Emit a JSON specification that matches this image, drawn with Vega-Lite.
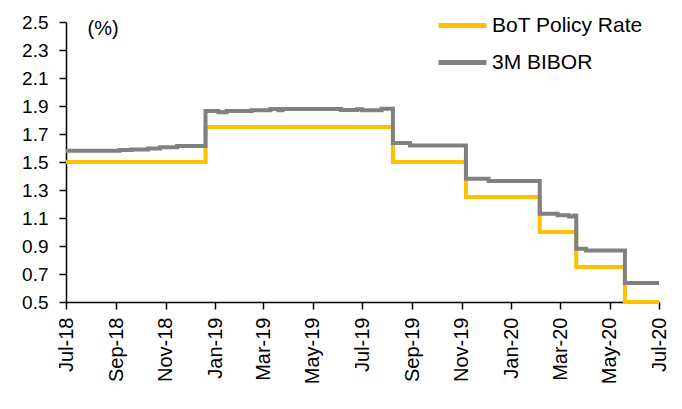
{
  "$schema": "https://vega.github.io/schema/vega-lite/v6.json",
  "width": 593,
  "height": 280,
  "autosize": {"type": "none"},
  "padding": {"left": 66, "top": 22, "right": 23, "bottom": 107},
  "background": "white",
  "config": {"font": "Liberation Sans", "view": {"stroke": null}},
  "data": {
    "values": [
      {"date": "2018-07-01", "series": "BoT Policy Rate", "value": 1.5},
      {"date": "2018-12-20", "series": "BoT Policy Rate", "value": 1.75},
      {"date": "2019-08-08", "series": "BoT Policy Rate", "value": 1.5},
      {"date": "2019-11-06", "series": "BoT Policy Rate", "value": 1.25},
      {"date": "2020-02-05", "series": "BoT Policy Rate", "value": 1.0},
      {"date": "2020-03-21", "series": "BoT Policy Rate", "value": 0.75},
      {"date": "2020-05-20", "series": "BoT Policy Rate", "value": 0.5},
      {"date": "2020-07-01", "series": "BoT Policy Rate", "value": 0.5},
      {"date": "2018-07-01", "series": "3M BIBOR", "value": 1.58},
      {"date": "2018-09-05", "series": "3M BIBOR", "value": 1.585},
      {"date": "2018-09-20", "series": "3M BIBOR", "value": 1.59},
      {"date": "2018-10-10", "series": "3M BIBOR", "value": 1.597},
      {"date": "2018-10-25", "series": "3M BIBOR", "value": 1.606},
      {"date": "2018-11-15", "series": "3M BIBOR", "value": 1.615},
      {"date": "2018-12-20", "series": "3M BIBOR", "value": 1.865},
      {"date": "2019-01-05", "series": "3M BIBOR", "value": 1.855},
      {"date": "2019-01-15", "series": "3M BIBOR", "value": 1.865},
      {"date": "2019-02-15", "series": "3M BIBOR", "value": 1.87},
      {"date": "2019-03-10", "series": "3M BIBOR", "value": 1.878},
      {"date": "2019-03-20", "series": "3M BIBOR", "value": 1.87},
      {"date": "2019-03-25", "series": "3M BIBOR", "value": 1.878},
      {"date": "2019-06-05", "series": "3M BIBOR", "value": 1.872},
      {"date": "2019-06-25", "series": "3M BIBOR", "value": 1.876},
      {"date": "2019-07-01", "series": "3M BIBOR", "value": 1.87},
      {"date": "2019-07-25", "series": "3M BIBOR", "value": 1.88},
      {"date": "2019-08-08", "series": "3M BIBOR", "value": 1.635},
      {"date": "2019-08-29", "series": "3M BIBOR", "value": 1.617},
      {"date": "2019-11-06", "series": "3M BIBOR", "value": 1.38},
      {"date": "2019-12-04", "series": "3M BIBOR", "value": 1.365},
      {"date": "2020-02-05", "series": "3M BIBOR", "value": 1.13},
      {"date": "2020-02-27", "series": "3M BIBOR", "value": 1.12},
      {"date": "2020-03-12", "series": "3M BIBOR", "value": 1.11},
      {"date": "2020-03-18", "series": "3M BIBOR", "value": 1.118},
      {"date": "2020-03-21", "series": "3M BIBOR", "value": 0.88},
      {"date": "2020-04-02", "series": "3M BIBOR", "value": 0.868},
      {"date": "2020-05-20", "series": "3M BIBOR", "value": 0.635},
      {"date": "2020-07-01", "series": "3M BIBOR", "value": 0.635}
    ]
  },
  "mark": {"type": "line", "interpolate": "step-after", "strokeWidth": 4},
  "encoding": {
    "x": {
      "field": "date",
      "type": "temporal",
      "scale": {"type": "utc", "domain": [{"year": 2018, "month": 7, "date": 1, "utc": true}, {"year": 2020, "month": 7, "date": 1, "utc": true}]},
      "axis": {
        "title": null,
        "values": [
          {"year": 2018, "month": 7, "date": 1, "utc": true},
          {"year": 2018, "month": 9, "date": 1, "utc": true},
          {"year": 2018, "month": 11, "date": 1, "utc": true},
          {"year": 2019, "month": 1, "date": 1, "utc": true},
          {"year": 2019, "month": 3, "date": 1, "utc": true},
          {"year": 2019, "month": 5, "date": 1, "utc": true},
          {"year": 2019, "month": 7, "date": 1, "utc": true},
          {"year": 2019, "month": 9, "date": 1, "utc": true},
          {"year": 2019, "month": 11, "date": 1, "utc": true},
          {"year": 2020, "month": 1, "date": 1, "utc": true},
          {"year": 2020, "month": 3, "date": 1, "utc": true},
          {"year": 2020, "month": 5, "date": 1, "utc": true},
          {"year": 2020, "month": 7, "date": 1, "utc": true}
        ],
        "format": "%b-%y",
        "labelAngle": -90,
        "labelFontSize": 20,
        "labelColor": "black",
        "labelPadding": 8,
        "labelFlush": false,
        "labelOverlap": false,
        "labelBound": false,
        "tickSize": 7,
        "tickColor": "black",
        "tickWidth": 1.5,
        "domainColor": "black",
        "domainWidth": 1.5,
        "grid": false
      }
    },
    "y": {
      "field": "value",
      "type": "quantitative",
      "scale": {"domain": [0.5, 2.5], "nice": false, "zero": false},
      "axis": {
        "values": [0.5, 0.7, 0.9, 1.1, 1.3, 1.5, 1.7, 1.9, 2.1, 2.3, 2.5],
        "format": ".1f",
        "labelFontSize": 19,
        "labelColor": "black",
        "labelPadding": 11,
        "labelFlush": false,
        "labelOverlap": false,
        "tickSize": 7,
        "tickColor": "black",
        "tickWidth": 1.5,
        "domainColor": "black",
        "domainWidth": 1.5,
        "grid": false,
        "title": "(%)",
        "titleAngle": 0,
        "titleAlign": "left",
        "titleBaseline": "middle",
        "titleX": 21,
        "titleY": 6,
        "titleFontSize": 20,
        "titleFontWeight": "normal",
        "titleColor": "black"
      }
    },
    "color": {
      "field": "series",
      "type": "nominal",
      "scale": {"domain": ["BoT Policy Rate", "3M BIBOR"], "range": ["#FFC000", "#808080"]},
      "legend": {
        "title": null,
        "orient": "none",
        "legendX": 370,
        "legendY": -23,
        "symbolType": "stroke",
        "symbolSize": 2300,
        "symbolStrokeWidth": 5,
        "labelFontSize": 21,
        "labelColor": "black",
        "labelOffset": 3,
        "rowPadding": -5
      }
    }
  }
}
